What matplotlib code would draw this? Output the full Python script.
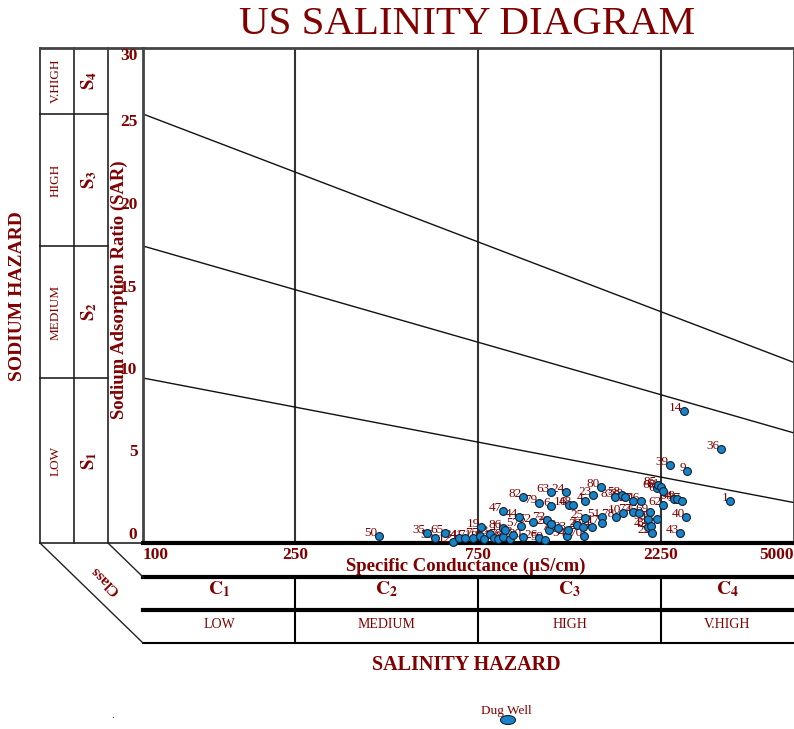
import numpy as np
import matplotlib.pyplot as plt
from matplotlib.patches import Ellipse

plt.rcParams['font.family'] = ['Liberation Serif', 'DejaVu Serif']
plt.rcParams['mathtext.fontset'] = 'stix'

RED = '#800000'
DOT = '#1a82c6'

# well number, specific conductance (uS/cm), SAR
wells = [50, 35, 65, 56, 12, 34, 41, 71, 75, 19, 18, 13, 8, 31, 76, 86, 11, 81, 3,
         47, 44, 57, 82, 30, 52, 79, 26, 59, 72, 7, 63, 6, 20, 73, 24, 54, 33, 16,
         48, 2, 29, 70, 4, 25, 74, 23, 80, 51, 17, 83, 78, 58, 10, 38, 27, 77, 45,
         46, 55, 42, 69, 84, 22, 68, 85, 61, 60, 62, 67, 64, 49, 37, 39, 9, 14, 36,
         43, 40, 1]
ec = [413, 551, 614, 578, 644, 668, 692, 727, 758, 762, 776, 805, 824, 844, 870,
      870, 881, 908, 924, 870, 958, 970, 981, 981, 1042, 1080, 1080, 1120, 1134,
      1147, 1161, 1161, 1161, 1211, 1270, 1278, 1285, 1293, 1326, 1357, 1407, 1416,
      1424, 1424, 1485, 1494, 1568, 1577, 1577, 1705, 1715, 1779, 1789, 1811, 1900,
      1900, 1970, 1994, 2080, 2080, 2105, 2118, 2131, 2195, 2208, 2248, 2276, 2276,
      2195, 2431, 2475, 2551, 2374, 2629, 2582, 3224, 2520, 2613, 3404]
sar = [0.42, 0.61, 0.61, 0.30, 0.06, 0.30, 0.30, 0.30, 0.42, 0.97, 0.24, 0.55, 0.30,
       0.24, 0.36, 0.91, 0.79, 0.24, 0.48, 1.94, 1.58, 1.03, 2.79, 0.36, 1.27, 2.42,
       0.30, 0.18, 1.39, 0.79, 3.09, 2.24, 1.15, 0.91, 3.09, 0.42, 0.79, 2.30, 2.30,
       1.09, 0.97, 0.42, 2.55, 1.52, 0.97, 2.91, 3.39, 1.58, 1.21, 2.79, 1.58, 2.91,
       1.82, 2.79, 2.55, 1.88, 1.82, 2.55, 1.45, 0.97, 1.88, 1.03, 0.61, 3.33, 3.52,
       3.39, 3.15, 2.30, 1.45, 2.67, 2.67, 2.55, 4.73, 4.36, 8.0, 5.70, 0.61, 1.58,
       2.55]

# class limits
ec_edges = [250, 750, 2250]
ec_ticks = [100, 250, 750, 2250, 5000]
c_classes = ['1', '2', '3', '4']
hazard = ['LOW', 'MEDIUM', 'HIGH', 'V.HIGH']
# sodium hazard boundaries: SAR at 100 and at 5000 uS/cm
sar_at_100 = [10, 18, 26]
sar_at_5000 = [2.45, 6.67, 10.94]

W, H = 794, 729
X0, X1, Y0, Y1 = 143, 794, 48, 543


def box(x0, y0, x1, y1):
    return [x0 / W, 1 - y1 / H, (x1 - x0) / W, (y1 - y0) / H]


def xpix(c):
    return X0 + (X1 - X0) * np.log10(c / 100) / np.log10(50)


def ypix(s):
    return Y1 - (Y1 - Y0) * s / 30


fig = plt.figure(figsize=(W / 100, H / 100), dpi=100)
bg = fig.add_axes([0, 0, 1, 1], zorder=0)
bg.set_xlim(0, W)
bg.set_ylim(H, 0)
bg.axis('off')

ax = fig.add_axes(box(X0, Y0, X1, Y1), zorder=1)
ax.set_facecolor('none')
ax.set_xscale('log')
ax.set_xlim(100, 5000)
ax.set_ylim(0, 30)

for c in ec_edges:
    ax.axvline(c, color='#333333', lw=1.5, zorder=1)
for a, b in zip(sar_at_100, sar_at_5000):
    ax.plot([100, 5000], [a, b], color='#111111', lw=1, zorder=2)

ax.scatter(ec, sar, s=32, c=DOT, edgecolors='#0d2233', linewidths=0.8,
           zorder=5, clip_on=False)
for w, e, s in zip(wells, ec, sar):
    ax.annotate(str(w), (e, s), xytext=(-1, 0), textcoords='offset points',
                ha='right', va='baseline', fontsize=9.5, color=RED, zorder=4)

for side in ['top', 'left', 'right']:
    ax.spines[side].set_color('#444444')
    ax.spines[side].set_linewidth(2)
ax.spines['bottom'].set_color('black')
ax.spines['bottom'].set_linewidth(3)

ax.xaxis.set_minor_locator(plt.NullLocator())
ax.set_xticks(ec_ticks, [str(t) for t in ec_ticks])
ax.set_yticks(range(0, 31, 5))
ax.tick_params(length=0, labelcolor=RED, labelsize=12.5)
ax.tick_params(axis='x', pad=3)
ax.tick_params(axis='y', pad=4)
for lab in ax.get_xticklabels() + ax.get_yticklabels():
    lab.set_fontweight('bold')
xl = ax.get_xticklabels()
xl[0].set_ha('left')
xl[-1].set_ha('right')
yl = ax.get_yticklabels()
for lab in yl:
    lab.set_va('bottom')
yl[-1].set_va('top')

# left panel (sodium hazard)
k = dict(color='#222222', lw=1.2)
for x in [40, 74, 108]:
    bg.plot([x, x], [Y0, Y1], **k)
bg.plot([40, X0], [Y0, Y0], color='#444444', lw=2)
bg.plot([40, X0], [Y1, Y1], **k)
for s in sar_at_100:
    bg.plot([40, 108], [ypix(s), ypix(s)], **k)
s_bounds = [0] + sar_at_100 + [30]
for i in range(4):
    yc = (ypix(s_bounds[i]) + ypix(s_bounds[i + 1])) / 2
    bg.text(56, yc, hazard[i], rotation=90, ha='center', va='center',
            fontsize=9.5, color=RED)
    bg.text(89, yc, r'$\mathbf{S_%d}$' % (i + 1), rotation=90, ha='center',
            va='center', fontsize=13.5, color=RED)

bg.text(18, 296, 'SODIUM HAZARD', rotation=90, ha='center', va='center',
        fontsize=14, fontweight='bold', color=RED)
bg.text(119, 290, 'Sodium Adsorption Ratio (SAR)', rotation=90, ha='center',
        va='center', fontsize=13.5, fontweight='bold', color=RED)

# bottom panel (salinity hazard)
bg.plot([X0, X1], [577, 577], color='black', lw=3)
bg.plot([X0, X1], [610, 610], color='black', lw=3)
bg.plot([X0, X1], [643, 643], color='black', lw=1.5)
for c in ec_edges:
    bg.plot([xpix(c), xpix(c)], [577, 643], color='black', lw=1.5)
bg.plot([40, X0], [Y1, 643], color='#222222', lw=1)
bg.plot([108, X0], [Y1, 577], color='#222222', lw=1)
cols = [100] + ec_edges + [5000]
for i in range(4):
    xc = (xpix(cols[i]) + xpix(cols[i + 1])) / 2
    bg.text(xc, 589, r'$\mathbf{C_%s}$' % c_classes[i], ha='center', va='center',
            fontsize=14, color=RED)
    bg.text(xc, 624, hazard[i], ha='center', va='center', fontsize=10, color=RED)

bg.text(105, 580, 'Class', rotation=135, ha='center', va='center',
        fontsize=11, fontweight='bold', color=RED)
bg.text(466, 566, 'Specific Conductance (µS/cm)', ha='center', va='center',
        fontsize=13.5, fontweight='bold', color=RED)
bg.text(466, 665, 'SALINITY HAZARD', ha='center', va='center',
        fontsize=14.5, fontweight='bold', color=RED)
bg.text(467, 24, 'US SALINITY DIAGRAM', ha='center', va='center',
        fontsize=29.5, color=RED)

# legend
bg.text(506, 711, 'Dug Well', ha='center', va='center', fontsize=9.5, color=RED)
bg.add_patch(Ellipse((508, 720), 15, 9, facecolor=DOT, edgecolor='#0d2233', lw=0.8))
bg.text(113, 716, '.', ha='center', va='center', fontsize=8, color='#333333')

fig.savefig('out.png', dpi=100)
